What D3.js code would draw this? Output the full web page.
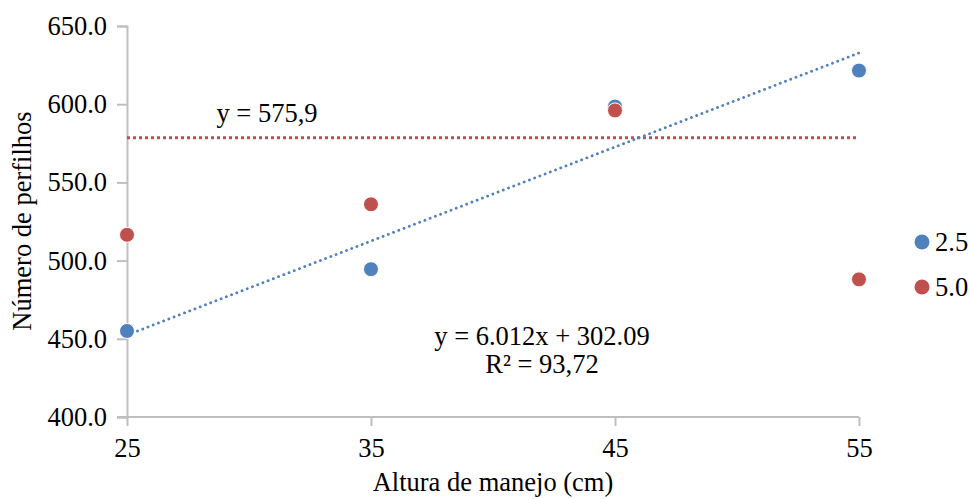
<!DOCTYPE html>
<html><head><meta charset="utf-8">
<script src="https://cdn.jsdelivr.net/npm/d3@7"></script>
<style>body{margin:0;background:#fff}svg{display:block}svg text{font-family:'Times New Roman','Liberation Serif','DejaVu Serif',serif !important;fill:#000}</style>
</head><body><svg id="c" width="969" height="499"></svg>
<script>
const xValues = [25, 35, 45, 55];
const series25 = [455, 494.5, 598.5, 621.5];
const series50 = [516.5, 536, 596, 488];
const seriesNames = ["2.5", "5.0"];
const yTicks = [400, 450, 500, 550, 600, 650];
const xTicks = [25, 35, 45, 55];
const trendSlope = 6.012, trendIntercept = 302.09;
const constLine = 578.5;
const colors = ["#4F81BD", "#C0504D"];
const FONT = "'Times New Roman','Liberation Serif',serif";
const FS = 26.5;

const svg = d3.select("#c");
const x = d3.scaleLinear().domain([25, 55]).range([127, 859]);
const y = d3.scaleLinear().domain([400, 650]).range([417, 26]);

const yAx = svg.append("g").attr("transform","translate(127,0)")
  .call(d3.axisLeft(y).tickValues(yTicks).tickFormat(d3.format(".1f")).tickSize(10).tickPadding(10));
const xAx = svg.append("g").attr("transform","translate(0,417)")
  .call(d3.axisBottom(x).tickValues(xTicks).tickFormat(d3.format("d")).tickSize(9).tickPadding(7));
[yAx,xAx].forEach(a=>{
  a.attr("font-family",FONT).attr("font-size",FS);
  a.selectAll("path").attr("stroke","#BFBFBF").attr("stroke-width",2);
  a.selectAll("line").attr("stroke","#BFBFBF").attr("stroke-width",2);
  a.selectAll("text").attr("fill","#000");
});
xAx.select(".domain").attr("d",`M${x(25)-10},0H${x(55)}`);
xAx.selectAll(".tick text").attr("dy","0.9em");

svg.append("line").attr("x1",x(25)).attr("x2",x(55)).attr("y1",y(constLine)).attr("y2",y(constLine))
  .attr("stroke",colors[1]).attr("stroke-width",3).attr("stroke-dasharray","3,3");
svg.append("line").attr("x1",x(25)).attr("x2",x(55))
  .attr("y1",y(trendSlope*25+trendIntercept)).attr("y2",y(trendSlope*55+trendIntercept))
  .attr("stroke",colors[0]).attr("stroke-width",2.8).attr("stroke-dasharray","0.1,5.5").attr("stroke-linecap","round");

[series25, series50].forEach((s,i)=>{
  svg.append("g").selectAll("circle").data(s).join("circle")
    .attr("cx",(d,j)=>x(xValues[j])).attr("cy",d=>y(d)).attr("r",7.5)
    .attr("fill",colors[i]).attr("stroke","#fff").attr("stroke-width",1);
});

const T = (xx,yy,s,anchor)=>svg.append("text").attr("x",xx).attr("y",yy).attr("text-anchor",anchor||"middle")
  .attr("font-family",FONT).attr("font-size",FS).text(s);
T(267,122,"y = 575,9");
T(542,345,"y = 6.012x + 302.09");
T(542,373,"R² = 93,72");
svg.append("text").attr("transform","translate(31,221) rotate(-90)").attr("text-anchor","middle")
  .attr("font-family",FONT).attr("font-size",FS).text("Número de perfilhos");
T(493,491,"Altura de manejo (cm)");

seriesNames.forEach((n,i)=>{
  svg.append("circle").attr("cx",922).attr("cy",242+i*45).attr("r",7.5).attr("fill",colors[i]);
  T(935,242+i*45+9,n,"start");
});
</script></body></html>
